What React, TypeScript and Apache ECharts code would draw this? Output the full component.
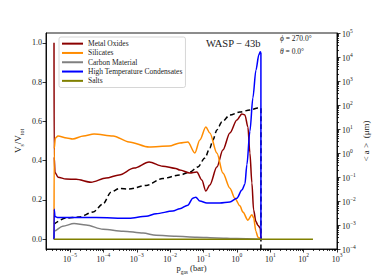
import React, { useEffect, useRef } from "react";
import * as echarts from "echarts";

const FONT = "'Liberation Serif', 'DejaVu Serif', serif";

// x values are log10(p_gas / bar)
const seriesNames = ["Metal Oxides", "Silicates", "Carbon Material", "High Temperature Condensates", "Salts"];
const seriesColors = ["#8b0000", "#ff8c00", "#808080", "#0000ff", "#808000"];

const metalOxidesLogP = [-5.48, -5.475, -5.45, -5.36, -5.12, -4.82, -4.37, -3.92, -3.53, -3.08, -2.63, -2.22, -1.83, -1.71, -1.41, -1.2, -1.05, -0.93, -0.81, -0.6, -0.42, -0.21, 0.0, 0.15, 0.24, 0.33, 0.39, 0.45, 0.5, 0.57, 0.63, 0.7, 0.72];
const metalOxidesFrac = [1.0, 0.42, 0.34, 0.316, 0.306, 0.305, 0.29, 0.311, 0.327, 0.362, 0.393, 0.372, 0.36, 0.352, 0.337, 0.342, 0.301, 0.245, 0.276, 0.367, 0.454, 0.541, 0.607, 0.638, 0.633, 0.571, 0.439, 0.286, 0.15, 0.09, 0.071, 0.056, 0.0];

const silicatesLogP = [-5.48, -5.475, -5.44, -5.36, -5.1, -4.92, -4.6, -4.28, -3.71, -3.23, -2.63, -2.03, -1.71, -1.47, -1.26, -1.11, -0.93, -0.81, -0.6, -0.42, -0.21, -0.06, 0.09, 0.18, 0.33, 0.45, 0.5, 0.57, 0.63, 0.72];
const silicatesFrac = [0.0, 0.46, 0.515, 0.526, 0.515, 0.51, 0.525, 0.536, 0.526, 0.495, 0.469, 0.474, 0.49, 0.495, 0.439, 0.505, 0.571, 0.541, 0.439, 0.337, 0.26, 0.209, 0.17, 0.138, 0.097, 0.125, 0.11, 0.04, 0.01, 0.0];

const carbonLogP = [-5.48, -5.475, -5.22, -4.88, -4.52, -4.01, -3.41, -2.81, -2.42, -1.83, -1.2, -0.6, 0.0, 0.72];
const carbonFrac = [0.0, 0.042, 0.066, 0.08, 0.072, 0.051, 0.041, 0.031, 0.02, 0.015, 0.01, 0.006, 0.003, 0.0];

const htcLogP = [-5.48, -5.475, -5.45, -5.36, -5.12, -4.22, -3.23, -2.72, -2.42, -1.92, -1.71, -1.47, -1.32, -1.23, -1.11, -0.9, -0.51, -0.21, 0.0, 0.15, 0.24, 0.3, 0.39, 0.48, 0.57, 0.66, 0.7, 0.72, 0.7205];
const htcFrac = [0.0, 0.153, 0.115, 0.11, 0.11, 0.11, 0.107, 0.117, 0.13, 0.143, 0.155, 0.173, 0.209, 0.214, 0.194, 0.184, 0.184, 0.189, 0.209, 0.25, 0.28, 0.38, 0.55, 0.72, 0.86, 0.94, 0.954, 0.95, 0.0];

const saltsLogP = [-5.48, -3.0, 0.0, 2.28];
const saltsFrac = [0.0, 0.0, 0.0, 0.0];

// mean particle size, log10(<a> / um)
const sizeLogP = [-5.48, -5.12, -4.73, -4.31, -4.01, -3.77, -3.53, -3.23, -2.72, -2.22, -1.71, -1.41, -1.17, -0.96, -0.81, -0.72, -0.6, -0.45, -0.21, 0.09, 0.39, 0.63, 0.72, 0.7205];
const sizeLogA = [-2.96, -2.71, -2.67, -2.46, -2.12, -1.63, -1.48, -1.5, -1.35, -1.06, -0.92, -0.79, -0.58, -0.21, 0.21, 0.54, 0.96, 1.29, 1.58, 1.71, 1.79, 1.88, 1.86, -5];

const xMajor = [-5, -4, -3, -2, -1, 0, 1, 2, 3];
const rightMajor = [-4, -3, -2, -1, 0, 1, 2, 3, 4, 5];
const leftTicks = [0, 0.2, 0.4, 0.6, 0.8, 1.0];

const X_MIN = -5.72;
const X_MAX = 3;

function minorTicks(lo: number, hi: number): number[] {
  const out: number[] = [];
  for (let n = Math.floor(lo); n < hi; n++) {
    for (let k = 2; k <= 9; k++) {
      const v = n + Math.log10(k);
      if (v > lo && v < hi) out.push(v);
    }
  }
  return out;
}

function zip(xs: number[], ys: number[]) {
  return xs.map((x, i) => [x, ys[i]]);
}

const pow10 = (v: number) => `{b|10}{s|${String(Math.round(v)).replace("-", "\u2212")}}`;

const richPow = {
  b: { fontSize: 8, fontFamily: FONT, color: "#222", lineHeight: 11, verticalAlign: "bottom" },
  s: { fontSize: 5.5, fontFamily: FONT, color: "#222", lineHeight: 6, verticalAlign: "top" },
};

export default function App() {
  const ref = useRef<HTMLDivElement>(null);

  useEffect(() => {
    if (!ref.current) return;
    const chart = echarts.init(ref.current, undefined, { renderer: "svg" });
    const tickLine = { color: "#000", width: 0.8 };
    const axisLine = { show: true, onZero: false, lineStyle: { color: "#000", width: 0.9 } };
    const hiddenLine = { show: false, onZero: false };

    const fracSeries = [
      [metalOxidesLogP, metalOxidesFrac],
      [silicatesLogP, silicatesFrac],
      [carbonLogP, carbonFrac],
      [htcLogP, htcFrac],
      [saltsLogP, saltsFrac],
    ].map(([xs, ys], i) => ({
      name: seriesNames[i],
      type: "line",
      xAxisIndex: 0,
      yAxisIndex: 0,
      data: zip(xs, ys),
      showSymbol: false,
      symbol: "none",
      smooth: 0.3,
      smoothMonotone: "x",
      lineStyle: { color: seriesColors[i], width: 1.5 },
      itemStyle: { color: seriesColors[i] },
      z: 2,
    }));

    chart.setOption({
      animation: false,
      grid: {
        left: 46,
        top: 33,
        right: 37,
        bottom: 31,
        outerBoundsMode: "none",
        containLabel: false,
        show: true,
        borderColor: "#000",
        borderWidth: 0.9,
        backgroundColor: "transparent",
      },
      legend: {
        orient: "vertical",
        left: 59,
        top: 37,
        data: seriesNames,
        icon: "rect",
        itemWidth: 21,
        itemHeight: 2,
        itemGap: 0,
        selectedMode: false,
        padding: [2, 3, 2, 3],
        borderColor: "#cccccc",
        borderWidth: 0.8,
        borderRadius: 2,
        backgroundColor: "rgba(255,255,255,0.85)",
        textStyle: { fontSize: 7.5, fontFamily: FONT, color: "#222", lineHeight: 9.3 },
      },
      xAxis: [
        {
          type: "value",
          min: X_MIN,
          max: X_MAX,
          position: "bottom",
          axisLine,
          axisTick: { show: true, customValues: xMajor, length: 3.5, lineStyle: tickLine },
          axisLabel: { customValues: xMajor, formatter: pow10, margin: 3, rich: richPow },
          splitLine: { show: false },
          name: "{b|p}{s|gas}{b| (bar)}",
          nameLocation: "middle",
          nameGap: 14,
          nameMoveOverlap: false,
          nameTextStyle: {
            rich: {
              b: { fontSize: 8.5, fontFamily: FONT, color: "#222", lineHeight: 12, verticalAlign: "top" },
              s: { fontSize: 5.5, fontFamily: FONT, color: "#222", lineHeight: 6, verticalAlign: "bottom" },
            },
          },
        },
        {
          type: "value",
          min: X_MIN,
          max: X_MAX,
          position: "bottom",
          axisLine: hiddenLine,
          axisTick: { show: true, customValues: minorTicks(X_MIN, X_MAX), length: 2, lineStyle: tickLine },
          axisLabel: { show: false },
          splitLine: { show: false },
        },
      ],
      yAxis: [
        {
          type: "value",
          min: -0.05,
          max: 1.05,
          position: "left",
          axisLine,
          axisTick: { show: true, customValues: leftTicks, length: 3.5, lineStyle: tickLine },
          axisLabel: { customValues: leftTicks, formatter: (v: number) => v.toFixed(1), fontSize: 8, fontFamily: FONT, color: "#222", margin: 4 },
          splitLine: { show: false },
          name: "{b|V}{s|s}{b|/V}{s|tot}",
          nameLocation: "middle",
          nameGap: 21,
          nameMoveOverlap: false,
          nameRotate: 90,
          nameTextStyle: {
            rich: {
              b: { fontSize: 9, fontFamily: FONT, color: "#222", lineHeight: 12, verticalAlign: "top" },
              s: { fontSize: 6, fontFamily: FONT, color: "#222", lineHeight: 6, verticalAlign: "bottom" },
            },
          },
        },
        {
          type: "value",
          min: -4,
          max: 5,
          position: "right",
          axisLine,
          axisTick: { show: true, customValues: rightMajor, length: 3.5, lineStyle: tickLine },
          axisLabel: { customValues: rightMajor, formatter: pow10, margin: 5, rich: richPow },
          splitLine: { show: false },
          name: "< a >  (\u03bcm)",
          nameLocation: "middle",
          nameGap: 24,
          nameMoveOverlap: false,
          nameRotate: 90,
          nameTextStyle: { fontSize: 9, fontFamily: FONT, color: "#222" },
        },
        {
          type: "value",
          min: -4,
          max: 5,
          position: "right",
          axisLine: hiddenLine,
          axisTick: { show: true, customValues: minorTicks(-4, 5), length: 2, lineStyle: tickLine },
          axisLabel: { show: false },
          splitLine: { show: false },
        },
      ],
      graphic: [
        {
          type: "text",
          left: 206,
          top: 38,
          style: { text: "WASP \u2212 43b", fontSize: 10.5, fontFamily: FONT, fill: "#222" },
        },
        {
          type: "text",
          left: 280,
          top: 34.5,
          style: {
            text: "{i|\u03d5} = 270.0\u00b0",
            fontSize: 7.5,
            fontFamily: FONT,
            fill: "#222",
            rich: { i: { fontSize: 7.5, fontFamily: FONT, fontStyle: "italic", fill: "#222" } },
          },
        },
        {
          type: "text",
          left: 280,
          top: 47.5,
          style: {
            text: "{i|\u03b8} = 0.0\u00b0",
            fontSize: 7.5,
            fontFamily: FONT,
            fill: "#222",
            rich: { i: { fontSize: 7.5, fontFamily: FONT, fontStyle: "italic", fill: "#222" } },
          },
        },
      ],
      series: [
        {
          name: "size",
          type: "line",
          xAxisIndex: 0,
          yAxisIndex: 1,
          data: zip(sizeLogP, sizeLogA),
          showSymbol: false,
          symbol: "none",
          smooth: 0.3,
          smoothMonotone: "x",
          clip: true,
          lineStyle: { color: "#000", width: 1.5, type: [5, 3] },
          itemStyle: { color: "#000" },
          z: 2,
        },
        ...fracSeries,
      ],
    });
    return () => chart.dispose();
  }, []);

  return <div ref={ref} style={{ position: "fixed", left: 0, top: 0, width: 374, height: 280, background: "#fff" }} />;
}
